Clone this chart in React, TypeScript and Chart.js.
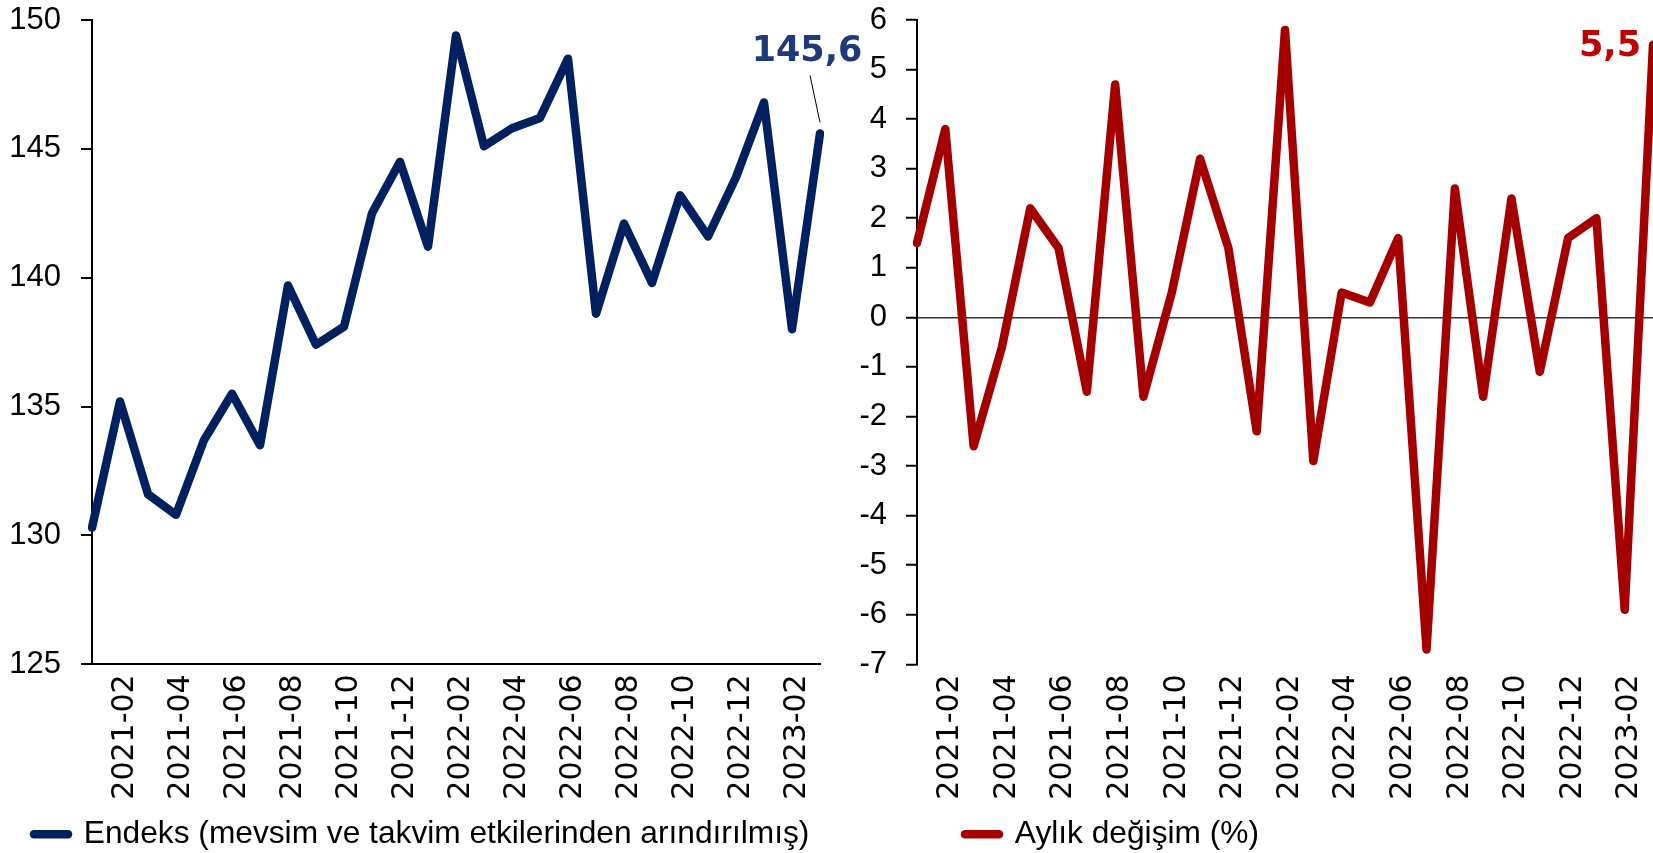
import React, { useEffect, useRef } from "react";
import { Chart, registerables } from "chart.js";

Chart.register(...registerables);

const months = [
  "2021-01", "2021-02", "2021-03", "2021-04", "2021-05", "2021-06", "2021-07",
  "2021-08", "2021-09", "2021-10", "2021-11", "2021-12", "2022-01", "2022-02",
  "2022-03", "2022-04", "2022-05", "2022-06", "2022-07", "2022-08", "2022-09",
  "2022-10", "2022-11", "2022-12", "2023-01", "2023-02", "2023-03",
];

const indexValues = [
  130.3, 135.2, 131.6, 130.8, 133.7, 135.5, 133.5, 139.7, 137.4, 138.1, 142.5,
  144.5, 141.2, 149.4, 145.1, 145.8, 146.2, 148.5, 138.6, 142.1, 139.8, 143.2,
  141.6, 143.9, 146.8, 138.0, 145.6,
];

const changeValues = [
  1.5, 3.8, -2.6, -0.6, 2.2, 1.4, -1.5, 4.7, -1.6, 0.5, 3.2, 1.4, -2.3, 5.8,
  -2.9, 0.5, 0.3, 1.6, -6.7, 2.6, -1.6, 2.4, -1.1, 1.6, 2.0, -5.9, 5.5,
];

const indexAxis = { min: 125, max: 150, step: 5 };
const changeAxis = { min: -7, max: 6, step: 1 };

const indexLegend = "Endeks (mevsim ve takvim etkilerinden arındırılmış)";
const changeLegend = "Aylık değişim (%)";
const indexLastLabel = "145,6";
const changeLastLabel = "5,5";

const NAVY = "#002060";
const NAVY_TEXT = "#1F3A78";
const RED = "#A50000";
const RED_TEXT = "#C00000";

const tickFont = { family: "'Liberation Sans', Arial, sans-serif", size: 31 };
const xFont = { family: "'DejaVu Sans', Verdana, sans-serif", size: 30 };
const legendFont = { family: "'Liberation Sans', Arial, sans-serif", size: 31.7 };
const valueFont = "bold 35px 'DejaVu Sans', Verdana, sans-serif";

function legendShift(dx: number, dy: number) {
  return {
    id: "legendShift",
    afterLayout(chart: any) {
      const l = chart.legend;
      if (l) {
        l.left += dx;
        l.right += dx;
        l.top += dy;
        l.bottom += dy;
      }
    },
  };
}

function lastLabel(kind: "index" | "change") {
  return {
    id: "lastLabel",
    afterDatasetsDraw(chart: any) {
      const meta = chart.getDatasetMeta(0);
      const pt = meta.data[meta.data.length - 1];
      if (!pt) return;
      const ctx = chart.ctx;
      ctx.save();
      ctx.font = valueFont;
      ctx.textBaseline = "middle";
      if (kind === "index") {
        ctx.strokeStyle = "#000";
        ctx.lineWidth = 1;
        ctx.beginPath();
        ctx.moveTo(pt.x - 10, pt.y - 58);
        ctx.lineTo(pt.x, pt.y - 11);
        ctx.stroke();
        ctx.fillStyle = NAVY_TEXT;
        ctx.textAlign = "center";
        ctx.fillText(indexLastLabel, pt.x - 13, pt.y - 81);
      } else {
        ctx.fillStyle = RED_TEXT;
        ctx.textAlign = "right";
        ctx.fillText(changeLastLabel, pt.x - 12, pt.y + 2);
      }
      ctx.restore();
    },
  };
}

function xTickCallback(_v: any, i: number) {
  return i % 2 === 1 ? months[i] : null;
}

function legendLabels(chart: any) {
  const items = (Chart as any).defaults.plugins.legend.labels.generateLabels(chart);
  return items.map((it: any) => ({ ...it, lineCap: "round", lineWidth: 8.5, pointStyle: "line" }));
}

function makeConfig(kind: "index" | "change"): any {
  const isIndex = kind === "index";
  const values = isIndex ? indexValues : changeValues;
  const axis = isIndex ? indexAxis : changeAxis;
  const color = isIndex ? NAVY : RED;
  return {
    type: "line",
    data: {
      labels: months,
      datasets: [
        {
          label: isIndex ? indexLegend : changeLegend,
          data: values,
          borderColor: color,
          backgroundColor: color,
          borderWidth: 8.5,
          borderJoinStyle: "round",
          borderCapStyle: "round",
          pointRadius: 0,
          pointHoverRadius: 0,
          tension: 0,
          fill: false,
        },
      ],
    },
    options: {
      animation: false,
      responsive: false,
      maintainAspectRatio: false,
      events: [],
      layout: { padding: { top: 20, right: isIndex ? 50 : 0, left: 0, bottom: 0 } },
      plugins: {
        tooltip: { enabled: false },
        legend: {
          display: true,
          position: "bottom",
          align: "start",
          labels: {
            usePointStyle: true,
            pointStyle: "line",
            pointStyleWidth: 34,
            padding: 10,
            color: "#000",
            font: legendFont,
            generateLabels: legendLabels,
          },
        },
      },
      scales: {
        x: {
          type: "category",
          offset: false,
          grid: { display: false },
          border: { display: isIndex, color: "#000", width: 2 },
          ticks: {
            autoSkip: false,
            minRotation: 90,
            maxRotation: 90,
            padding: 2,
            labelOffset: 5,
            color: "#000",
            font: xFont,
            callback: xTickCallback,
          },
          afterFit(scale: any) {
            scale.height = 137;
            scale.paddingLeft = 0;
            scale.paddingRight = 0;
          },
        },
        y: {
          min: axis.min,
          max: axis.max,
          ticks: {
            stepSize: axis.step,
            padding: isIndex ? 20 : 19,
            color: "#000",
            font: tickFont,
          },
          grid: isIndex
            ? {
                display: true,
                drawOnChartArea: false,
                drawTicks: true,
                tickLength: 11,
                color: "#000",
                lineWidth: 2,
              }
            : {
                display: true,
                drawOnChartArea: true,
                drawTicks: true,
                tickLength: 11,
                color: (c: any) => (c.tick && c.tick.value === 0 ? "#333" : "rgba(0,0,0,0)"),
                tickColor: "#000",
                lineWidth: 1.5,
                tickWidth: 2,
              },
          border: { display: true, color: "#000", width: 2 },
          afterFit(scale: any) {
            scale.width = isIndex ? 92 : 77;
            scale.paddingTop = 0;
            scale.paddingBottom = 0;
          },
        },
      },
    },
    plugins: [
      legendShift(isIndex ? 24 : 115, 7),
      lastLabel(kind),
    ],
  };
}

function LineCanvas({ kind, left, width }: { kind: "index" | "change"; left: number; width: number }) {
  const ref = useRef<HTMLCanvasElement | null>(null);
  useEffect(() => {
    if (!ref.current) return;
    const chart = new Chart(ref.current, makeConfig(kind));
    return () => chart.destroy();
  }, [kind]);
  return (
    <canvas
      ref={ref}
      width={width}
      height={853}
      style={{ position: "absolute", left, top: 0, width, height: 853 }}
    />
  );
}

export default function App() {
  return (
    <div
      style={{
        position: "fixed",
        left: 0,
        top: 0,
        width: 1653,
        height: 853,
        overflow: "hidden",
        background: "#fff",
      }}
    >
      <LineCanvas kind="index" left={0} width={870} />
      <LineCanvas kind="change" left={840} width={813} />
    </div>
  );
}
